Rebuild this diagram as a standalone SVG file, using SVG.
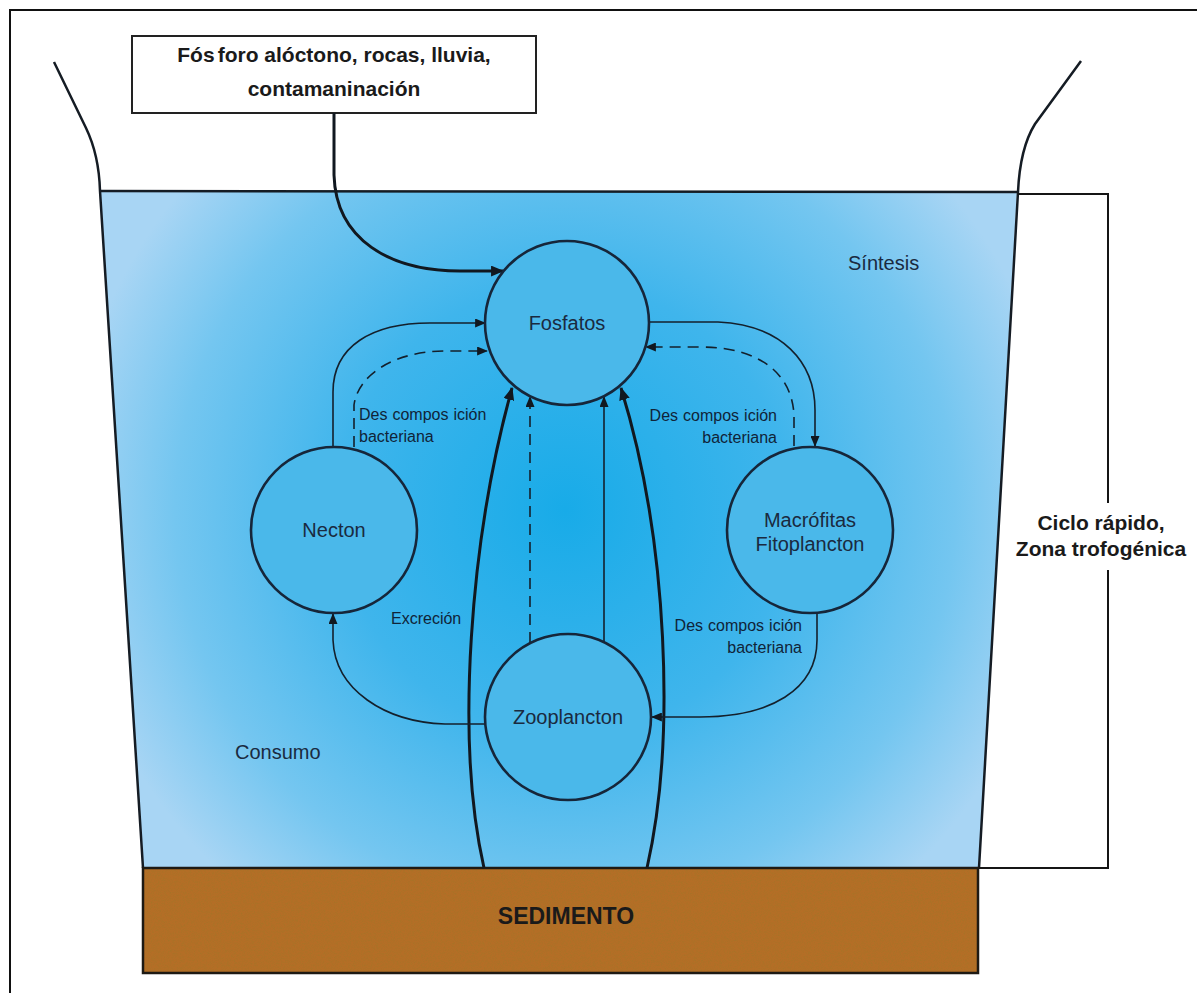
<svg xmlns="http://www.w3.org/2000/svg" width="1197" height="993" viewBox="0 0 1197 993">
<style>
.edge{fill:none;stroke:#151c24;stroke-width:2.5}
.thin{fill:none;stroke:#14202c;stroke-width:1.6}
.thick{fill:none;stroke:#111820;stroke-width:3}
.dash{fill:none;stroke:#14202c;stroke-width:1.6;stroke-dasharray:11 7}
.node{fill:#4ab8ea;stroke:#16263a;stroke-width:2.6}
.nt{font-family:"Liberation Sans",Arial,sans-serif;font-size:20px;fill:#1a2a40;text-anchor:middle}
.lbl{font-family:"Liberation Sans",Arial,sans-serif;font-size:16px;fill:#102438}
.big{font-family:"Liberation Sans",Arial,sans-serif;font-size:21px;font-weight:bold;fill:#1a1a1a;text-anchor:middle}
.zone{font-family:"Liberation Sans",Arial,sans-serif;font-size:20px;fill:#1a2a40}
</style>
<defs>
<radialGradient id="water" gradientUnits="userSpaceOnUse" cx="565" cy="510" r="500">
<stop offset="0" stop-color="#18abe8"/>
<stop offset="0.45" stop-color="#3fb5ec"/>
<stop offset="0.78" stop-color="#74c6f0"/>
<stop offset="1" stop-color="#a8d5f4"/>
</radialGradient>
<filter id="grain" x="0" y="0" width="100%" height="100%">
<feTurbulence type="fractalNoise" baseFrequency="0.7 1.4" numOctaves="2" seed="4"/>
<feColorMatrix values="0 0 0 0 0.35  0 0 0 0 0.18  0 0 0 0 0.02  0 0 0 2.2 -0.9"/>
</filter>
<marker id="ah" viewBox="0 0 12 10" refX="11" refY="5" markerWidth="13" markerHeight="11" markerUnits="userSpaceOnUse" orient="auto">
<path d="M0,0 L12,5 L0,10 Z" fill="#111820"/>
</marker>
<marker id="ahs" viewBox="0 0 12 10" refX="11" refY="5" markerWidth="11" markerHeight="9" markerUnits="userSpaceOnUse" orient="auto">
<path d="M0,0 L12,5 L0,10 Z" fill="#111820"/>
</marker>
</defs>
<rect x="0" y="0" width="1197" height="993" fill="#ffffff"/>
<rect x="10" y="10" width="1200" height="1000" fill="none" stroke="#111" stroke-width="2"/>

<g id="lake">
<polygon points="100,191 1017,192 979,868 143,868" fill="url(#water)"/>
<path class="edge" d="M54,62 L86,128 Q99,155 100,191 L143,868"/>
<path class="edge" d="M1081,61 L1035,124 Q1020,148 1018,192 L979,868"/>
<line class="edge" x1="100" y1="191" x2="1018" y2="192"/>
</g>

<g id="sedimento">
<rect x="143" y="868" width="835" height="105" fill="#b46e26"/>
<rect x="143" y="868" width="835" height="105" filter="url(#grain)" opacity="0.6"/>
<rect x="143" y="868" width="835" height="105" fill="none" stroke="#1e1a14" stroke-width="2.5"/>
<text class="big" x="566" y="924" style="font-size:23px">SEDIMENTO</text>
</g>

<g id="bracket">
<path fill="none" stroke="#151515" stroke-width="2" d="M1018,194 H1108 V503 M1108,570 V868 H979"/>
<text class="big" x="1101" y="530">Ciclo rápido,</text>
<text class="big" x="1101" y="556">Zona trofogénica</text>
</g>

<g id="fuente">
<rect x="132" y="36" width="404" height="77" fill="#ffffff" stroke="#222" stroke-width="2"/>
<text class="big" x="334" y="62">Fós<tspan dx="3">foro alóctono, rocas, lluvia,</tspan></text>
<text class="big" x="334" y="96">contamaninación</text>
</g>

<g id="connectors">
<path class="thick" marker-end="url(#ah)" d="M334,113 L334,175 C336,240 390,271 460,271 L503,271"/>
<path class="thin" marker-end="url(#ahs)" d="M333,447 L333,392 C333,346 372,323 430,323 L485,323"/>
<path class="dash" marker-end="url(#ahs)" d="M354,447 L354,405 C358,374 396,351 445,351 L487,351"/>
<path class="thin" marker-end="url(#ahs)" d="M649,322 L718,322 C782,325 815,362 815,410 L815,446"/>
<path class="dash" marker-end="url(#ahs)" d="M794,446 L794,415 C792,374 760,347 700,347 L646,347"/>
<path class="thick" marker-end="url(#ah)" d="M484,868 C455,740 470,540 512,388"/>
<path class="thick" marker-end="url(#ah)" d="M647,868 C676,740 668,540 621,388"/>
<path class="dash" marker-end="url(#ahs)" d="M530,643 L530,397"/>
<path class="thin" marker-end="url(#ahs)" d="M604,643 L604,397"/>
<path class="thin" marker-end="url(#ahs)" d="M486,724 L445,724 C385,722 335,690 333,640 L333,614"/>
<path class="thin" marker-end="url(#ahs)" d="M817,613 L817,640 C817,690 770,717 700,717 L652,717"/>
</g>

<g id="labels">
<text class="lbl" x="359" y="420">Des<tspan dx="5">compos</tspan><tspan dx="5">ición</tspan></text>
<text class="lbl" x="359" y="442">bacteriana</text>
<text class="lbl" x="777" y="421" text-anchor="end">Des<tspan dx="5">compos</tspan><tspan dx="5">ición</tspan></text>
<text class="lbl" x="777" y="443" text-anchor="end">bacteriana</text>
<text class="lbl" x="802" y="631" text-anchor="end">Des<tspan dx="5">compos</tspan><tspan dx="5">ición</tspan></text>
<text class="lbl" x="802" y="653" text-anchor="end">bacteriana</text>
<text class="lbl" x="391" y="624">Excreción</text>
<text class="zone" x="848" y="270">Síntesis</text>
<text class="zone" x="235" y="759">Consumo</text>
</g>

<g id="fosfatos">
<circle class="node" cx="567" cy="323" r="82"/>
<text class="nt" x="567" y="330">Fosfatos</text>
</g>
<g id="necton">
<circle class="node" cx="334" cy="530" r="83"/>
<text class="nt" x="334" y="537">Necton</text>
</g>
<g id="macrofitas">
<circle class="node" cx="810" cy="530" r="83"/>
<text class="nt" x="810" y="527">Macrófitas</text>
<text class="nt" x="810" y="551">Fitoplancton</text>
</g>
<g id="zooplancton">
<circle class="node" cx="568" cy="717" r="83"/>
<text class="nt" x="568" y="724">Zooplancton</text>
</g>
</svg>
